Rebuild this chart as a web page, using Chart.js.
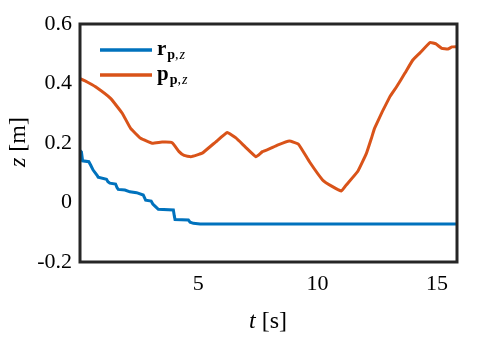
<!DOCTYPE html>
<html><head><meta charset="utf-8">
<script src="https://cdn.jsdelivr.net/npm/chart.js@4"></script>
<style>html,body{margin:0;padding:0;background:#fff}#wrap{width:488px;height:337px}</style>
</head><body><div id="wrap"><canvas id="c" width="488" height="337"></canvas></div>
<script>
// r_{p,z} (blue, staircase)
const rT = [0, 0.11, 0.16, 0.42, 0.50, 0.60, 0.78, 0.81, 1.16, 1.22, 1.30, 1.54, 1.60, 1.65, 1.93, 2.14, 2.42, 2.70, 2.76, 2.80, 3.03, 3.10, 3.19, 3.33, 3.96, 4.00, 4.03, 4.59, 4.66, 4.80, 5.08, 15.84];
const rZ = [0.178, 0.170, 0.140, 0.137, 0.125, 0.109, 0.090, 0.085, 0.078, 0.070, 0.065, 0.062, 0.050, 0.044, 0.042, 0.036, 0.033, 0.025, 0.015, 0.008, 0.005, -0.005, -0.012, -0.023, -0.025, -0.045, -0.057, -0.059, -0.066, -0.070, -0.072, -0.072];
// p_{p,z} (orange)
const pT = [0, 0.35, 0.70, 1.33, 1.82, 2.17, 2.59, 3.07, 3.49, 3.91, 4.20, 4.41, 4.69, 5.17, 5.74, 6.22, 6.58, 6.97, 7.42, 7.69, 7.98, 8.32, 8.82, 9.20, 9.66, 10.21, 10.59, 11.00, 11.20, 11.68, 12.05, 12.26, 12.39, 13.03, 13.31, 13.66, 13.99, 14.29, 14.71, 14.96, 15.20, 15.46, 15.63, 15.84];
const pZ = [0.418, 0.405, 0.389, 0.350, 0.300, 0.249, 0.216, 0.199, 0.203, 0.201, 0.171, 0.158, 0.154, 0.166, 0.204, 0.235, 0.217, 0.187, 0.154, 0.171, 0.180, 0.193, 0.207, 0.196, 0.137, 0.076, 0.055, 0.039, 0.059, 0.104, 0.166, 0.217, 0.250, 0.356, 0.389, 0.435, 0.479, 0.503, 0.538, 0.533, 0.518, 0.516, 0.523, 0.524];
const xTicks = [5, 10, 15];
const yTicks = [-0.2, 0, 0.2, 0.4, 0.6];
const yTickLabels = ['-0.2', '0', '0.2', '0.4', '0.6'];
const legendItems = [
  {main: 'r', sub: 'p', color: '#0072BD'},
  {main: 'p', sub: 'p', color: '#D95319'}
];
const xTitle = ['t', ' [s]'];
const yTitle = ['z', ' [m]'];

const SERIF = '"Liberation Serif", "DejaVu Serif", serif';
const INK = '#262626';

const toPts = (xs, ys) => xs.map((x, i) => ({x: x, y: ys[i]}));

const decor = {
  id: 'decor',
  afterDatasetsDraw(chart) {
    const {ctx, chartArea: a} = chart;
    ctx.save();
    // box
    ctx.strokeStyle = INK;
    ctx.lineWidth = 3;
    ctx.strokeRect(a.left, a.top, a.right - a.left, a.bottom - a.top);
    // legend
    legendItems.forEach((it, i) => {
      const y = 50 + i * 25;
      ctx.strokeStyle = it.color;
      ctx.lineWidth = 3.5;
      ctx.beginPath(); ctx.moveTo(100, y); ctx.lineTo(152, y); ctx.stroke();
      ctx.fillStyle = '#000';
      ctx.textBaseline = 'alphabetic';
      ctx.textAlign = 'left';
      let x = 157;
      const base = y + 5;
      ctx.font = 'bold 21px ' + SERIF;
      ctx.fillText(it.main, x, base); x += ctx.measureText(it.main).width + 1;
      ctx.font = 'bold 14px ' + SERIF;
      ctx.fillText(it.sub, x, base + 4); x += ctx.measureText(it.sub).width;
      ctx.font = '14px ' + SERIF;
      ctx.fillText(',', x, base + 4); x += ctx.measureText(',').width + 1;
      ctx.font = 'italic 14px ' + SERIF;
      ctx.fillText('z', x, base + 4);
    });
    // x title
    ctx.fillStyle = '#000';
    ctx.textBaseline = 'alphabetic';
    ctx.font = 'italic 24px ' + SERIF;
    const w1 = ctx.measureText(xTitle[0]).width;
    ctx.font = '24px ' + SERIF;
    const w2 = ctx.measureText(xTitle[1]).width;
    let sx = 268 - (w1 + w2) / 2;
    ctx.font = 'italic 24px ' + SERIF;
    ctx.fillText(xTitle[0], sx, 328);
    ctx.font = '24px ' + SERIF;
    ctx.fillText(xTitle[1], sx + w1, 328);
    // y title (rotated)
    ctx.translate(25, 142);
    ctx.rotate(-Math.PI / 2);
    ctx.font = 'italic 24px ' + SERIF;
    const v1 = ctx.measureText(yTitle[0]).width;
    ctx.font = '24px ' + SERIF;
    const v2 = ctx.measureText(yTitle[1]).width;
    let sy = -(v1 + v2) / 2;
    ctx.font = 'italic 24px ' + SERIF;
    ctx.fillText(yTitle[0], sy, 0);
    ctx.font = '24px ' + SERIF;
    ctx.fillText(yTitle[1], sy + v1, 0);
    ctx.restore();
  }
};

new Chart(document.getElementById('c'), {
  type: 'line',
  data: {
    datasets: [
      {data: toPts(rT, rZ), borderColor: '#0072BD', borderWidth: 3, pointRadius: 0, tension: 0, fill: false},
      {data: toPts(pT, pZ), borderColor: '#D95319', borderWidth: 3, pointRadius: 0, tension: 0.1, fill: false}
    ]
  },
  options: {
    responsive: false,
    animation: false,
    devicePixelRatio: 1,
    layout: {padding: {left: 0, right: 31, top: 24, bottom: 0}},
    plugins: {legend: {display: false}, tooltip: {enabled: false}},
    scales: {
      x: {
        type: 'linear', min: 0.05, max: 15.84,
        grid: {display: false, drawTicks: false},
        border: {display: false},
        afterBuildTicks: s => { s.ticks = xTicks.map(v => ({value: v})); },
        afterFit: s => { s.height = 75; },
        ticks: {color: '#000', font: {family: SERIF, size: 22}, padding: 9, maxRotation: 0, callback: v => String(v)}
      },
      y: {
        type: 'linear', min: -0.2, max: 0.6,
        grid: {display: false, drawTicks: false},
        border: {display: false},
        afterBuildTicks: s => { s.ticks = yTicks.map(v => ({value: v})); },
        afterFit: s => { s.width = 80; },
        ticks: {color: '#000', font: {family: SERIF, size: 22}, padding: 8,
          callback: v => { const i = yTicks.findIndex(t => Math.abs(t - v) < 1e-9); return i >= 0 ? yTickLabels[i] : ''; }}
      }
    }
  },
  plugins: [decor]
});
</script>
</body></html>
